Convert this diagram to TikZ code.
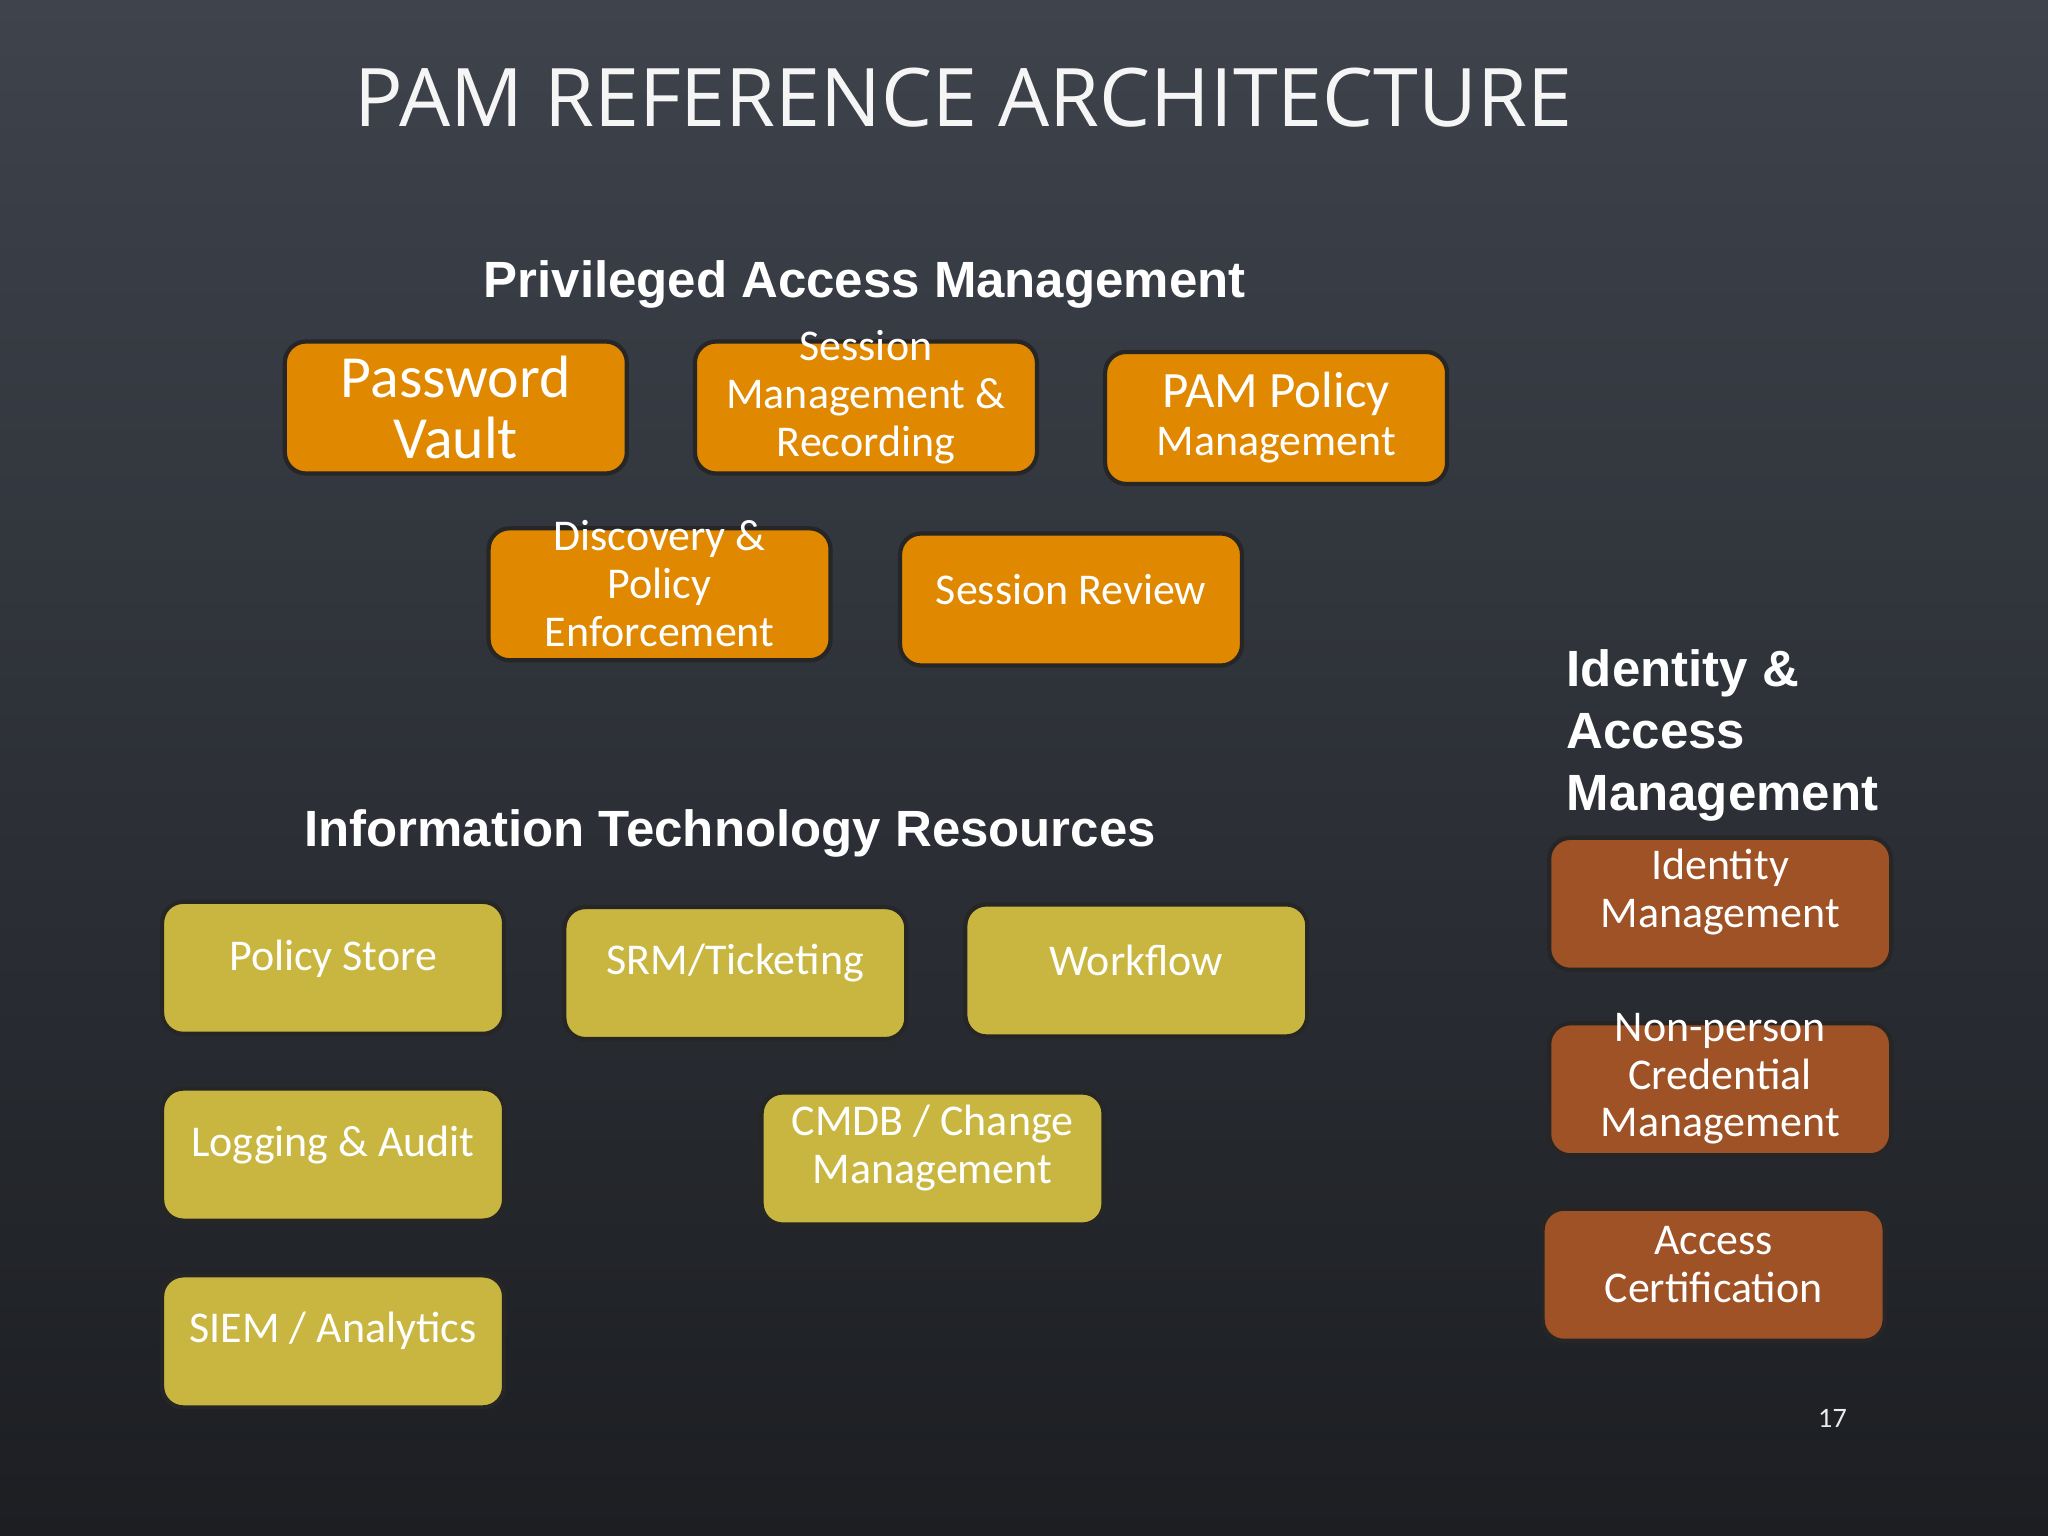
\documentclass[tikz,border=0pt]{standalone}
\usepackage{fontspec}
\setmainfont{Carlito}
\newfontfamily\hdfont{Liberation Sans}
\newfontfamily\ttlfont{Open Sans}
\begin{document}
\begin{tikzpicture}[x=0.013061cm,y=-0.013061cm,
 box/.style={draw=black!70!gray,line width=1.2pt,rounded corners=6pt,minimum width=3.42cm,minimum height=1.32cm,inner sep=0pt},
 txt/.style={align=center,text=white,font=\fontsize{12.5}{13.6}\selectfont},
 org/.style={box,fill={rgb,255:red,224;green,136;blue,0}},
 yel/.style={box,fill={rgb,255:red,201;green,182;blue,64}},
 brn/.style={box,fill={rgb,255:red,158;green,82;blue,37}},
 hdg/.style={text=white,font=\hdfont\bfseries\fontsize{14.5}{17}\selectfont}]
\shade[top color={rgb,255:red,62;green,67;blue,76},bottom color={rgb,255:red,28;green,30;blue,34}] (0,0) rectangle (1568,1176);
\node[anchor=west,text=white!92!gray,font=\ttlfont\fontsize{23}{26}\selectfont] (title) at (262,75) {PAM REFERENCE ARCHITECTURE};
\node[hdg] (h1) at (662,218) {Privileged Access Management};
\node[hdg] (h2) at (559,638) {Information Technology Resources};
\node[hdg,anchor=north west,align=left,font=\hdfont\bfseries\fontsize{14.5}{17.6}\selectfont] (h3) at (1190,488) {Identity \&\\Access\\Management};
\node[org] (pv) at (349,312) {}; \node[txt,font=\fontsize{17}{17.5}\selectfont] (pvt) at (pv) {Password\\Vault};
\node[org] (sm) at (663,312) {}; \node[txt] (smt) at (663,304) {Session\\Management \&\\Recording};
\node[org] (pp) at (977,320) {}; \node[txt] (ppt) at (pp) {{\fontsize{14.5}{15}\selectfont PAM Policy}\\Management};
\node[org] (dp) at (505,455) {}; \node[txt] (dpt) at (505,447) {Discovery \&\\Policy\\Enforcement};
\node[org] (sr) at (820,459) {}; \node[txt] (srt) at (820,451) {Session Review};
\node[yel] (ps) at (255,741) {}; \node[txt] (pst) at (255,734) {Policy Store};
\node[yel] (srm) at (563,745) {}; \node[txt] (srmt) at (563,737) {SRM/Ticketing};
\node[yel] (wf) at (870,743) {}; \node[txt] (wft) at (870,735) {Workflow};
\node[yel] (la) at (255,884) {}; \node[txt] (lat) at (255,877) {Logging \& Audit};
\node[yel] (cm) at (714,887) {}; \node[txt] (cmt) at (714,879) {CMDB / Change\\Management};
\node[yel] (si) at (255,1027) {}; \node[txt] (sit) at (255,1019) {SIEM / Analytics};
\node[brn] (im) at (1317,692) {}; \node[txt] (imt) at (1317,683) {Identity\\Management};
\node[brn] (np) at (1317,834) {}; \node[txt] (npt) at (1317,826) {Non-person\\Credential\\Management};
\node[brn] (ac) at (1312,976) {}; \node[txt] (act) at (1312,968) {Access\\Certification};
\node[text=white!85!gray,font=\fontsize{8}{9}\selectfont] (pg) at (1403,1086) {17};
\end{tikzpicture}
\end{document}
